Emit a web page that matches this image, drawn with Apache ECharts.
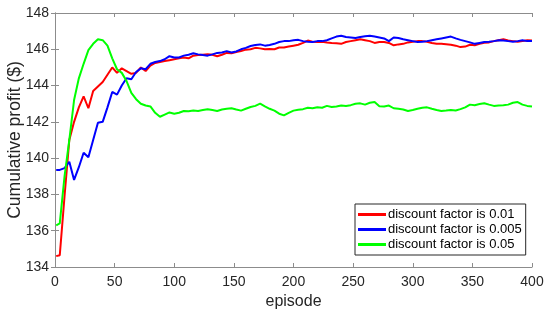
<!DOCTYPE html>
<html>
<head>
<meta charset="utf-8">
<script src="https://cdn.jsdelivr.net/npm/echarts@6/dist/echarts.min.js"></script>
<style>
  html, body { margin: 0; padding: 0; background: #fff; }
  #main { width: 550px; height: 316px; }
</style>
</head>
<body>
<div id="main"></div>
<script>
// episode numbers (x)
var episodes = [1, 4, 8, 12, 16, 20, 24, 28, 32, 36, 40, 44, 48, 52, 56, 60, 64, 68, 72, 76,
  80, 84, 88, 92, 96, 100, 104, 108, 112, 116, 120, 124, 128, 132, 136, 140, 144, 148, 152, 156,
  160, 164, 168, 172, 176, 180, 184, 188, 192, 196, 200, 204, 208, 212, 216, 220, 224, 228, 232, 236,
  240, 244, 248, 252, 256, 260, 264, 268, 272, 276, 280, 284, 288, 292, 296, 300, 304, 308, 312, 316,
  320, 324, 328, 332, 336, 340, 344, 348, 352, 356, 360, 364, 368, 372, 376, 380, 384, 388, 392, 396, 400];

// discount factor 0.01
var profit001 = [134.6, 134.65, 137.9, 141.0, 142.0, 142.8, 143.4, 142.75, 143.7, 143.95, 144.2, 144.6, 145.0, 144.7, 144.95, 144.8, 144.65, 144.7, 145.0, 144.8,
  145.1, 145.25, 145.3, 145.35, 145.4, 145.45, 145.5, 145.55, 145.5, 145.65, 145.68, 145.7, 145.72, 145.7, 145.62, 145.7, 145.8, 145.78, 145.85, 145.9,
  145.98, 146.0, 146.08, 146.05, 146.0, 146.02, 146.0, 146.1, 146.1, 146.15, 146.2, 146.25, 146.35, 146.48, 146.42, 146.4, 146.42, 146.38, 146.35, 146.33,
  146.3, 146.4, 146.45, 146.5, 146.55, 146.5, 146.45, 146.35, 146.4, 146.4, 146.35, 146.22, 146.27, 146.3, 146.38, 146.42, 146.45, 146.45, 146.42, 146.35,
  146.3, 146.3, 146.28, 146.25, 146.2, 146.12, 146.15, 146.25, 146.22, 146.3, 146.36, 146.38, 146.45, 146.5, 146.55, 146.48, 146.45, 146.42, 146.45, 146.5, 146.48];

// discount factor 0.005
var profit0005 = [139.35, 139.35, 139.45, 139.8, 138.8, 139.5, 140.3, 140.05, 141.0, 141.95, 142.0, 142.8, 143.65, 143.5, 144.0, 144.4, 144.35, 144.75, 144.95, 144.9,
  145.2, 145.3, 145.35, 145.45, 145.62, 145.55, 145.55, 145.65, 145.7, 145.78, 145.72, 145.68, 145.65, 145.72, 145.8, 145.82, 145.9, 145.82, 145.88, 146.0,
  146.08, 146.18, 146.24, 146.27, 146.2, 146.24, 146.3, 146.4, 146.45, 146.45, 146.5, 146.52, 146.45, 146.42, 146.4, 146.45, 146.45, 146.5, 146.6, 146.7,
  146.75, 146.68, 146.65, 146.62, 146.68, 146.72, 146.75, 146.7, 146.65, 146.6, 146.45, 146.65, 146.62, 146.55, 146.5, 146.45, 146.4, 146.42, 146.45, 146.5,
  146.55, 146.6, 146.65, 146.7, 146.6, 146.52, 146.45, 146.38, 146.3, 146.35, 146.4, 146.42, 146.45, 146.5, 146.48, 146.45, 146.42, 146.45, 146.5, 146.45, 146.45];

// discount factor 0.05
var profit005 = [136.3, 136.4, 139.0, 141.0, 143.2, 144.4, 145.2, 145.95, 146.3, 146.55, 146.5, 146.2, 145.5, 144.9, 144.7, 144.25, 143.6, 143.25, 143.0, 142.9,
  142.85, 142.5, 142.28, 142.4, 142.52, 142.45, 142.5, 142.6, 142.58, 142.62, 142.6, 142.65, 142.7, 142.65, 142.6, 142.68, 142.72, 142.75, 142.68, 142.62,
  142.72, 142.82, 142.88, 143.0, 142.85, 142.72, 142.62, 142.45, 142.36, 142.5, 142.62, 142.67, 142.7, 142.78, 142.75, 142.8, 142.78, 142.88, 142.82, 142.85,
  142.9, 142.88, 142.92, 143.0, 143.02, 142.95, 143.05, 143.09, 142.86, 142.85, 142.9, 142.75, 142.72, 142.68, 142.6, 142.65, 142.72, 142.78, 142.8, 142.72,
  142.65, 142.6, 142.62, 142.65, 142.63, 142.7, 142.8, 142.95, 142.92, 142.98, 143.03, 142.95, 142.88, 142.9, 142.92, 142.95, 143.05, 143.09, 142.95, 142.88, 142.85];

var legendNames = ['discount factor is 0.01', 'discount factor is 0.005', 'discount factor is 0.05'];

function pairs(ys) {
    var out = [];
    for (var i = 0; i < episodes.length; i++) {
        out.push([episodes[i], ys[i]]);
    }
    return out;
}

var font = 'Liberation Sans, Arial, sans-serif';
var axisGray = '#8c8c8c';
var textColor = '#262626';

var myChart = echarts.init(document.getElementById('main'));

function mkSeries(name, ys, color) {
    return {
        name: name,
        type: 'line',
        data: pairs(ys),
        showSymbol: false,
        symbol: 'none',
        lineStyle: { color: color, width: 2 },
        itemStyle: { color: color },
        animation: false
    };
}

var option = {
    backgroundColor: '#fff',
    textStyle: { fontFamily: font },
    grid: { left: 55, right: 18, top: 13, bottom: 49, containLabel: false, outerBoundsMode: 'none' },
    legend: {
        data: legendNames,
        orient: 'vertical',
        left: 355,
        top: 204,
        width: 170,
        padding: [4, 4, 4, 3],
        itemGap: 2,
        itemWidth: 28,
        itemHeight: 3,
        icon: 'rect',
        borderColor: '#262626',
        borderWidth: 1,
        backgroundColor: '#fff',
        textStyle: { fontFamily: font, fontSize: 13, color: '#000', padding: [0, 0, 0, -3] }
    },
    xAxis: [{
        type: 'value',
        min: 0, max: 400, interval: 50,
        name: 'episode',
        nameLocation: 'middle',
        nameGap: 27,
        nameMoveOverlap: false,
        nameTextStyle: { fontSize: 16, color: textColor, fontFamily: font },
        axisLine: { show: true, lineStyle: { color: axisGray, width: 1 } },
        axisTick: { show: true, inside: true, length: 4, lineStyle: { color: axisGray } },
        axisLabel: { fontSize: 14, color: textColor, margin: 8, fontFamily: font },
        splitLine: { show: false }
    }, {
        type: 'value',
        position: 'top',
        min: 0, max: 400, interval: 50,
        axisLine: { show: true, lineStyle: { color: axisGray, width: 1 } },
        axisTick: { show: true, inside: true, length: 4, lineStyle: { color: axisGray } },
        axisLabel: { show: false },
        splitLine: { show: false }
    }],
    yAxis: [{
        type: 'value',
        min: 134, max: 148, interval: 2,
        name: 'Cumulative profit ($)',
        nameLocation: 'middle',
        nameGap: 31,
        nameMoveOverlap: false,
        nameTextStyle: { fontSize: 17.5, color: textColor, fontFamily: font },
        axisLine: { show: true, lineStyle: { color: axisGray, width: 1 } },
        axisTick: { show: true, inside: true, length: 4, lineStyle: { color: axisGray } },
        axisLabel: { fontSize: 14, color: textColor, margin: 6, fontFamily: font },
        splitLine: { show: false }
    }, {
        type: 'value',
        position: 'right',
        min: 134, max: 148, interval: 2,
        axisLine: { show: true, lineStyle: { color: axisGray, width: 1 } },
        axisTick: { show: true, inside: true, length: 4, lineStyle: { color: axisGray } },
        axisLabel: { show: false },
        splitLine: { show: false }
    }],
    series: [
        mkSeries(legendNames[0], profit001, '#ff0000'),
        mkSeries(legendNames[1], profit0005, '#0000ff'),
        mkSeries(legendNames[2], profit005, '#00ff00')
    ]
};

myChart.setOption(option);
</script>
</body>
</html>
